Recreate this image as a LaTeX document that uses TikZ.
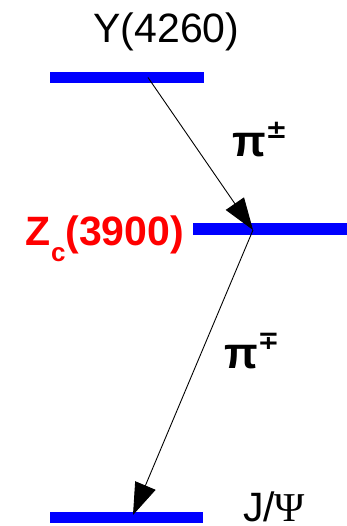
\documentclass[tikz,border=0pt]{standalone}
\usepackage{fontspec}
\setmainfont{Liberation Sans}
\newfontfamily\serifgreek{Liberation Serif}
\newfontfamily\symfont{DejaVu Sans}
\usetikzlibrary{arrows.meta}
\tikzset{
  level/.style={fill={rgb,255:red,0;green,0;blue,255}, draw=none, minimum height=11pt, inner sep=0pt, outer sep=0pt, rectangle},
  decay/.style={line width=0.9pt, -{Triangle[length=32pt,width=22pt]}},
  lbl/.style={inner sep=0pt, outer sep=0pt, font=\fontsize{41}{41}\selectfont},
  pilbl/.style={inner sep=0pt, outer sep=0pt, font=\fontsize{44}{44}\selectfont\bfseries},
}
\newcommand{\pmsup}[1]{\raisebox{0.42em}{\symfont\bfseries\fontsize{26}{26}\selectfont #1}}
\definecolor{zred}{rgb}{1,0,0}
\begin{document}
\begin{tikzpicture}[x=1pt,y=-1pt]
\useasboundingbox (0,0) rectangle (347,526);
% levels
\node[level, minimum width=154pt, anchor=west] (ylev) at (50,77.5) {};
\node[level, minimum width=155pt, anchor=west] (zlev) at (193,229) {};
\node[level, minimum width=153pt, anchor=west] (jlev) at (50,517.5) {};
% labels
\node[lbl, anchor=base] (ytxt) at (166.5,43) {Y(4260)};
\node[lbl, anchor=base east, text=zred, font=\fontsize{41}{41}\selectfont\bfseries] (ztxt) at (184,245) {Z\raisebox{-0.4em}{\fontsize{26}{26}\selectfont c}(3900)};
\node[lbl, anchor=base west] (jtxt) at (243,521) {J/{\serifgreek Ψ}};
\node[pilbl, anchor=base west] (pi1) at (232,157) {π\pmsup{±}};
\node[pilbl, anchor=base west] (pi2) at (224,368) {π\pmsup{∓}};
% decay arrows
\coordinate (a0) at (148,77.5);
\coordinate (a1) at (253,230);
\coordinate (a2) at (133,515);
\draw[decay] (a0) -- (a1);
\draw[decay] (a1) -- (a2);
\end{tikzpicture}
\end{document}
